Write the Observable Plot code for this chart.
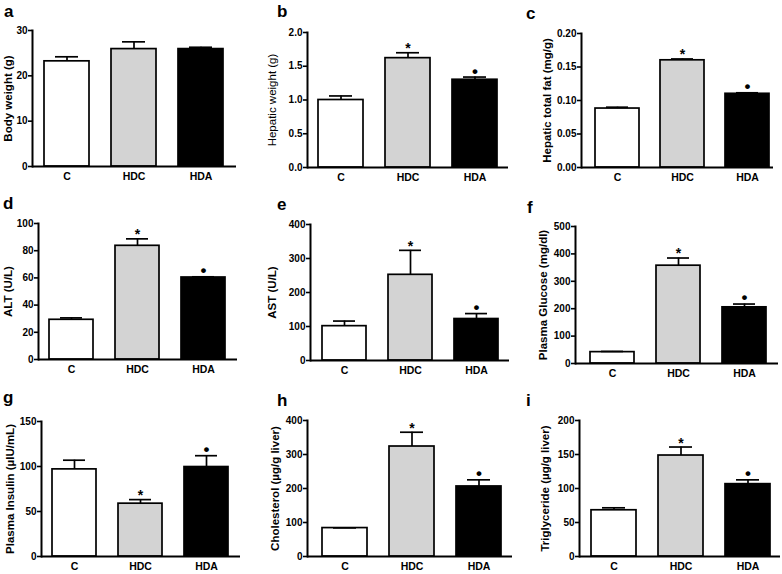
<!DOCTYPE html>
<html>
<head>
<meta charset="utf-8">
<script src="https://cdn.jsdelivr.net/npm/d3@7"></script>
<script src="https://cdn.jsdelivr.net/npm/@observablehq/plot@0.6"></script>
<style>
  html, body { margin: 0; padding: 0; background: #fff; }
  #root { position: relative; width: 782px; height: 574px; overflow: hidden; font-family: "Liberation Sans", Arial, sans-serif; }
  .panel { position: absolute; }
  .letter { position: absolute; font-weight: bold; font-size: 17px; line-height: 1; color: #000; }
</style>
</head>
<body>
<div id="root"></div>
<script>
// ---------- data ----------
const groups = ["C", "HDC", "HDA"];
const groupFills = ["#ffffff", "#d3d3d3", "#000000"];
const sigNone = ["", "", ""];
const sigMarks = ["", "*", "•"];

const panelLetters = ["a", "b", "c", "d", "e", "f", "g", "h", "i"];
const yLabels = [
  "Body weight (g)", "Hepatic weight (g)", "Hepatic total fat (mg/g)",
  "ALT (U/L)", "AST (U/L)", "Plasma Glucose (mg/dl)",
  "Plasma Insulin (µIU/mL)", "Cholesterol (µg/g liver)", "Triglyceride (µg/g liver)"
];

const bodyWeightMean = [23.2, 25.9, 25.9];
const bodyWeightSem = [1.0, 1.6, 0.4];
const bodyWeightTicks = [0, 10, 20, 30];
const bodyWeightTickLabels = ["0", "10", "20", "30"];

const hepaticWeightMean = [1.00, 1.62, 1.30];
const hepaticWeightSem = [0.06, 0.08, 0.04];
const hepaticWeightTicks = [0, 0.5, 1.0, 1.5, 2.0];
const hepaticWeightTickLabels = ["0.0", "0.5", "1.0", "1.5", "2.0"];

const hepaticFatMean = [0.088, 0.160, 0.110];
const hepaticFatSem = [0.002, 0.002, 0.0015];
const hepaticFatTicks = [0, 0.05, 0.10, 0.15, 0.20];
const hepaticFatTickLabels = ["0.00", "0.05", "0.10", "0.15", "0.20"];

const altMean = [29.2, 83.6, 60.3];
const altSem = [1.4, 5.1, 0.5];
const altTicks = [0, 20, 40, 60, 80, 100];
const altTickLabels = ["0", "20", "40", "60", "80", "100"];

const astMean = [101, 252, 122];
const astSem = [15, 72, 16];
const astTicks = [0, 100, 200, 300, 400];
const astTickLabels = ["0", "100", "200", "300", "400"];

const glucoseMean = [41.5, 357, 205];
const glucoseSem = [2.5, 28, 12];
const glucoseTicks = [0, 100, 200, 300, 400, 500];
const glucoseTickLabels = ["0", "100", "200", "300", "400", "500"];

const insulinMean = [96.8, 58.7, 99.4];
const insulinSem = [10.2, 4.5, 12.6];
const insulinTicks = [0, 50, 100, 150];
const insulinTickLabels = ["0", "50", "100", "150"];

const cholesterolMean = [83.6, 323.5, 206];
const cholesterolSem = [0.5, 42, 19.5];
const cholesterolTicks = [0, 100, 200, 300, 400];
const cholesterolTickLabels = ["0", "100", "200", "300", "400"];

const triglycerideMean = [68, 148.5, 106.4];
const triglycerideSem = [3.6, 12.5, 6.3];
const triglycerideTicks = [0, 50, 100, 150, 200];
const triglycerideTickLabels = ["0", "50", "100", "150", "200"];

const panelData = [
  {mean: bodyWeightMean, sem: bodyWeightSem, ticks: bodyWeightTicks, tickLabels: bodyWeightTickLabels, sig: sigNone},
  {mean: hepaticWeightMean, sem: hepaticWeightSem, ticks: hepaticWeightTicks, tickLabels: hepaticWeightTickLabels, sig: sigMarks},
  {mean: hepaticFatMean, sem: hepaticFatSem, ticks: hepaticFatTicks, tickLabels: hepaticFatTickLabels, sig: sigMarks},
  {mean: altMean, sem: altSem, ticks: altTicks, tickLabels: altTickLabels, sig: sigMarks},
  {mean: astMean, sem: astSem, ticks: astTicks, tickLabels: astTickLabels, sig: sigMarks},
  {mean: glucoseMean, sem: glucoseSem, ticks: glucoseTicks, tickLabels: glucoseTickLabels, sig: sigMarks},
  {mean: insulinMean, sem: insulinSem, ticks: insulinTicks, tickLabels: insulinTickLabels, sig: sigMarks},
  {mean: cholesterolMean, sem: cholesterolSem, ticks: cholesterolTicks, tickLabels: cholesterolTickLabels, sig: sigMarks},
  {mean: triglycerideMean, sem: triglycerideSem, ticks: triglycerideTicks, tickLabels: triglycerideTickLabels, sig: sigMarks}
];

// ---------- layout (page pixels) ----------
const layout = [
  {x0: 0,   y0: 0,   w: 260, h: 190, axisX: 32,  yTop: 30,  yZero: 166, axisEnd: 236, band: [31.75, 234.25], labelOffset: 29, labelBold: true,  letter: [4, 3]},
  {x0: 260, y0: 0,   w: 260, h: 190, axisX: 307, yTop: 32,  yZero: 167, axisEnd: 508, band: [306.9, 508.6],  labelOffset: 40, labelBold: false, letter: [277, 3]},
  {x0: 520, y0: 0,   w: 262, h: 190, axisX: 581, yTop: 33,  yZero: 167, axisEnd: 773, band: [583.1, 780.4],  labelOffset: 39, labelBold: true,  letter: [526, 5]},
  {x0: 0,   y0: 190, w: 260, h: 190, axisX: 38,  yTop: 223, yZero: 359, axisEnd: 237, band: [37.25, 236.75], labelOffset: 35, labelBold: true,  letter: [3, 195]},
  {x0: 260, y0: 190, w: 260, h: 190, axisX: 310, yTop: 224, yZero: 360, axisEnd: 509, band: [310.75, 510.25], labelOffset: 43, labelBold: true,  letter: [277, 196]},
  {x0: 520, y0: 190, w: 262, h: 190, axisX: 575, yTop: 226, yZero: 363, axisEnd: 778, band: [577.6, 778],    labelOffset: 37, labelBold: true,  letter: [527, 199]},
  {x0: 0,   y0: 380, w: 260, h: 194, axisX: 41,  yTop: 421, yZero: 556, axisEnd: 240, band: [41.5, 239.5],   labelOffset: 36, labelBold: true,  letter: [3, 389]},
  {x0: 260, y0: 380, w: 260, h: 194, axisX: 307, yTop: 420, yZero: 556, axisEnd: 512, band: [311, 512],      labelOffset: 37, labelBold: true,  letter: [277, 392]},
  {x0: 520, y0: 380, w: 262, h: 194, axisX: 579, yTop: 420, yZero: 556, axisEnd: 780, band: [580, 781],      labelOffset: 39, labelBold: true,  letter: [526, 392]}
];

const root = document.getElementById("root");
const LW = 1.7;

panelData.forEach((pd, k) => {
  const L = layout[k];
  const rows = groups.map((g, i) => ({
    group: g,
    mean: pd.mean[i],
    top: pd.mean[i] + pd.sem[i],
    sig: pd.sig[i]
  }));
  const yMax = pd.ticks[pd.ticks.length - 1];

  const chart = Plot.plot({
    width: L.w,
    height: L.h,
    marginLeft: L.axisX - L.x0,
    marginRight: L.x0 + L.w - L.axisEnd,
    marginTop: L.yTop - L.y0,
    marginBottom: L.y0 + L.h - L.yZero,
    style: {fontFamily: '"Liberation Sans", Arial, sans-serif', fontSize: "10px", background: "transparent", overflow: "visible", color: "#000"},
    x: {type: "band", domain: groups, range: [L.band[0] - L.x0, L.band[1] - L.x0], paddingInner: 0.33, paddingOuter: 0.165},
    y: {domain: [0, yMax], nice: false},
    color: {domain: groups, range: groupFills},
    marks: [
      Plot.barY(rows, {x: "group", y: "mean", fill: "group", stroke: "#000", strokeWidth: LW}),
      Plot.ruleX(rows, {x: "group", y1: "mean", y2: "top", stroke: "#000", strokeWidth: LW}),
      Plot.tickY(rows, {x: "group", y: "top", stroke: "#000", strokeWidth: LW, insetLeft: 11, insetRight: 11}),
      Plot.text(rows.filter(d => d.sig === "*"), {x: "group", y: "top", text: "sig", fontSize: 14, fontWeight: "bold", lineAnchor: "middle", dy: -4}),
      Plot.text(rows.filter(d => d.sig === "•"), {x: "group", y: "top", text: "sig", fontSize: 17, fontWeight: "bold", lineAnchor: "middle", dy: -6}),
      Plot.frame({anchor: "left", stroke: "#000", strokeWidth: 2}),
      Plot.ruleY([0], {stroke: "#000", strokeWidth: 2}),
      Plot.axisY({
        ticks: pd.ticks,
        tickFormat: d => pd.tickLabels[pd.ticks.indexOf(d)],
        tickSize: 4,
        tickPadding: 1,
        strokeWidth: 1.6,
        fontSize: 10,
        fontWeight: "bold",
        label: null
      }),
      Plot.axisY({
        ticks: [],
        tickSize: 0,
        label: yLabels[k],
        labelAnchor: "center",
        labelArrow: "none",
        labelOffset: L.labelOffset,
        fontSize: 11.5,
        fontWeight: L.labelBold ? "bold" : "normal"
      }),
      Plot.axisX({
        tickSize: 0,
        tickPadding: 6,
        fontSize: 10.5,
        fontWeight: "bold",
        label: null
      })
    ]
  });
  chart.classList.add("panel");
  chart.style.left = L.x0 + "px";
  chart.style.top = L.y0 + "px";
  chart.style.position = "absolute";
  root.appendChild(chart);

  const letter = document.createElement("div");
  letter.className = "letter";
  letter.textContent = panelLetters[k];
  letter.style.left = L.letter[0] + "px";
  letter.style.top = L.letter[1] + "px";
  root.appendChild(letter);
});
</script>
</body>
</html>
